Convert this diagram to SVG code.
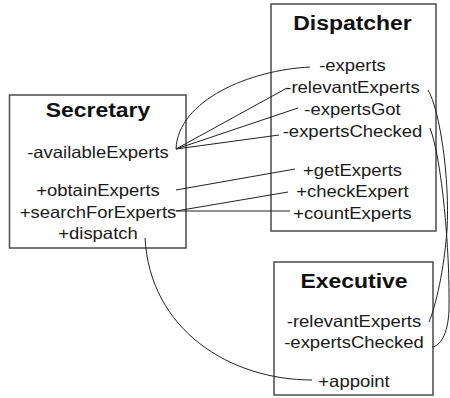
<svg xmlns="http://www.w3.org/2000/svg" width="450" height="398" viewBox="0 0 450 398">
<style>
.box{fill:#fff;stroke:#555;stroke-width:1.6}
.t{font-family:"Liberation Sans",Arial,sans-serif;font-size:16.5px;fill:#1a1a1a;text-anchor:middle}
.h{font-family:"Liberation Sans",Arial,sans-serif;font-size:20.5px;font-weight:bold;fill:#111;text-anchor:middle}
.c{fill:none;stroke:#222;stroke-width:1}
</style>
<rect width="450" height="398" fill="#fff"/>
<g id="secretary">
<rect class="box" x="9.5" y="95" width="176.5" height="153"/>
<g transform="translate(98 0) scale(1.12 1)">
<text class="h" x="0" y="117">Secretary</text>
<text class="t" x="0" y="158">-availableExperts</text>
<text class="t" x="0" y="196">+obtainExperts</text>
<text class="t" x="0" y="218">+searchForExperts</text>
<text class="t" x="0" y="239">+dispatch</text>
</g>
</g>
<g id="dispatcher">
<rect class="box" x="271" y="4" width="165" height="227"/>
<g transform="translate(352.5 0) scale(1.12 1)">
<text class="h" x="0" y="30">Dispatcher</text>
<text class="t" x="0" y="71">-experts</text>
<text class="t" x="0" y="93">-relevantExperts</text>
<text class="t" x="0" y="115">-expertsGot</text>
<text class="t" x="0" y="137">-expertsChecked</text>
<text class="t" x="0" y="176">+getExperts</text>
<text class="t" x="0" y="197">+checkExpert</text>
<text class="t" x="0" y="219">+countExperts</text>
</g>
</g>
<g id="executive">
<rect class="box" x="274" y="262" width="159" height="133"/>
<g transform="translate(354 0) scale(1.12 1)">
<text class="h" x="0" y="288">Executive</text>
<text class="t" x="0" y="327">-relevantExperts</text>
<text class="t" x="0" y="348">-expertsChecked</text>
<text class="t" x="0" y="387">+appoint</text>
</g>
</g>
<g id="connectors">
<path class="c" d="M176,149 C178,100 250,70 310,67"/>
<path class="c" d="M176,149 L287,88"/>
<path class="c" d="M176,149 L298,108"/>
<path class="c" d="M176,149 L279,135"/>
<path class="c" d="M176,190 L295,169"/>
<path class="c" d="M176,211 L288,192"/>
<path class="c" d="M176,211 L290,211"/>
<path class="c" d="M145,238 C150,330 230,380 312,380"/>
<path class="c" d="M428,90 C440,110 450,180 447,230 C444,270 436,305 429,322"/>
<path class="c" d="M430,128 C442,160 450,250 449,310 C448,335 440,346 432,347"/>
</g>
</svg>
